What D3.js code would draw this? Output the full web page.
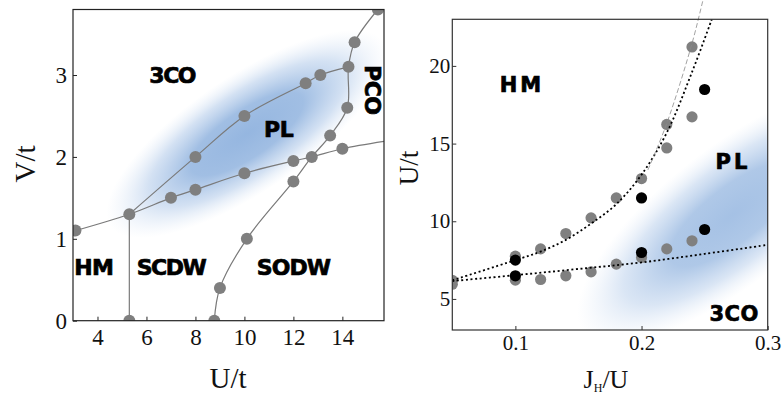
<!DOCTYPE html>
<html>
<head>
<meta charset="utf-8">
<script src="https://cdn.jsdelivr.net/npm/d3@7"></script>
<style>
  html, body { margin: 0; padding: 0; background: #fff; }
  svg { display: block; }
  .tick text { font-family: "Liberation Serif", "DejaVu Serif", serif; fill: #111; }
  .phase { font-family: "DejaVu Sans", sans-serif; font-weight: bold; fill: #000; stroke: #000; stroke-width: 0.7; }
  .title { font-family: "Liberation Serif", "DejaVu Serif", serif; fill: #111; }
</style>
</head>
<body>
<svg id="chart" width="782" height="396"></svg>
<script>
// ---------- Left panel: V/t versus U/t ----------
const leftXTicks = [4, 6, 8, 10, 12, 14];
const leftYTicks = [0, 1, 2, 3];

// measured transition points (U/t, V/t)
const leftDots = [
  [3.1, 1.1], [5.3, 1.3], [7, 1.5], [8, 1.6], [10, 1.8], [12, 1.95], [12.75, 2.0], [14, 2.1],
  [8, 2.0], [10, 2.5], [12.5, 2.9], [13.1, 3.0], [14.25, 3.1],
  [8.77, 0], [9, 0.4], [10.1, 1.0], [12, 1.7], [13.5, 2.26], [14.2, 2.6], [14.5, 3.4], [15.45, 3.8],
  [5.3, 0]
];

// phase boundaries through the points
const boundaryLower = [[3.1, 1.1], [5.3, 1.3], [7, 1.5], [8, 1.6], [10, 1.8], [12, 1.95], [12.75, 2.0], [14, 2.1], [15.7, 2.19]];
const boundaryUpper = [[5.3, 1.3], [8, 2.0], [10, 2.5], [12.5, 2.9], [13.1, 3.0], [14.25, 3.1]];
const boundaryRight = [[8.77, 0], [9, 0.4], [10.1, 1.0], [12, 1.7], [12.75, 2.0], [13.5, 2.26], [14.2, 2.6], [14.25, 3.1], [14.5, 3.4], [15.45, 3.8]];
const boundaryHM = [[5.3, 0], [5.3, 1.3]];

const leftLabels = [
  { text: "3CO", x: 7.05, y: 3.0, rotate: 0, ls: -1.5 },
  { text: "PL", x: 11.4, y: 2.33, rotate: 0, ls: -0.5 },
  { text: "PCO", x: 15.25, y: 2.82, rotate: 90, ls: -0.5 },
  { text: "HM", x: 3.85, y: 0.65, rotate: 0, ls: -0.5 },
  { text: "SCDW", x: 7.0, y: 0.65, rotate: 0, ls: -1.5 },
  { text: "SODW", x: 12.0, y: 0.65, rotate: 0, ls: -1 }
];

// ---------- Right panel: U/t versus J_H/U ----------
const rightXTicks = [0.1, 0.2, 0.3];
const rightYTicks = [5, 10, 15, 20];

const grayDots = [
  [0.05, 6.2], [0.05, 5.95],
  [0.1, 7.75], [0.12, 8.22], [0.14, 9.21], [0.16, 10.22], [0.18, 11.5], [0.2, 12.75],
  [0.22, 16.23], [0.22, 14.72], [0.24, 21.22], [0.24, 16.72],
  [0.1, 6.21], [0.12, 6.25], [0.14, 6.49], [0.16, 6.74], [0.18, 7.24], [0.2, 7.67],
  [0.22, 8.22], [0.24, 8.74]
];
const blackDots = [[0.1, 7.5], [0.1, 6.49], [0.2, 11.5], [0.2, 7.99], [0.25, 9.47], [0.25, 18.48]];

const fitUpper = [[0.05, 6.2], [0.1, 7.5], [0.12, 8.05], [0.14, 8.8], [0.16, 9.85], [0.18, 11.1], [0.2, 13.0], [0.22, 15.7], [0.24, 19.6], [0.2557, 23]];
const fitLower = [[0.05, 6.15], [0.1, 6.53], [0.15, 6.93], [0.2, 7.35], [0.25, 7.9], [0.3, 8.48]];
const fitSteep = [[0.205, 13.3], [0.22, 16.3], [0.2395, 21.3], [0.2486, 24.2], [0.251, 25]];

const rightLabels = [
  { text: "HM", x: 0.1052, y: 18.8, ls: 3 },
  { text: "PL", x: 0.2725, y: 13.8, ls: 3 },
  { text: "3CO", x: 0.2734, y: 4.0, ls: 0.5 }
];

const svg = d3.select("#chart");
const defs = svg.append("defs");

// soft blue glow for the PL region
const grad = defs.append("radialGradient").attr("id", "plGlow");
grad.append("stop").attr("offset", "0%").attr("stop-color", "#95b6e0").attr("stop-opacity", 1);
grad.append("stop").attr("offset", "40%").attr("stop-color", "#9cbbe2").attr("stop-opacity", 0.95);
grad.append("stop").attr("offset", "70%").attr("stop-color", "#b0c9e9").attr("stop-opacity", 0.55);
grad.append("stop").attr("offset", "100%").attr("stop-color", "#d6e3f4").attr("stop-opacity", 0);

// ===== left panel =====
const xL = d3.scaleLinear().domain([3, 15.7]).range([73, 384]);
const yL = d3.scaleLinear().domain([0, 3.8]).range([320.7, 9.5]);

defs.append("clipPath").attr("id", "clipL").append("rect")
  .attr("x", xL.range()[0]).attr("y", yL.range()[1])
  .attr("width", xL.range()[1] - xL.range()[0]).attr("height", yL.range()[0] - yL.range()[1]);

const gL = svg.append("g");
const plotL = gL.append("g").attr("clip-path", "url(#clipL)");

// glow: centred on the PL pocket, stretched along the boundaries
{
  const cx = xL(10.1), cy = yL(2.28);
  plotL.append("ellipse")
    .attr("cx", 0).attr("cy", 0).attr("rx", 165).attr("ry", 58)
    .attr("transform", `translate(${cx},${cy}) rotate(-34)`)
    .attr("fill", "url(#plGlow)");
}

const lineL = d3.line().x(d => xL(d[0])).y(d => yL(d[1])).curve(d3.curveCatmullRom.alpha(0.5));
[boundaryLower, boundaryUpper, boundaryRight, boundaryHM].forEach(b => {
  plotL.append("path").attr("d", lineL(b))
    .attr("fill", "none").attr("stroke", "#7a7a7a").attr("stroke-width", 1.2);
});

plotL.selectAll("circle.dot").data(leftDots).join("circle")
  .attr("class", "dot")
  .attr("cx", d => xL(d[0])).attr("cy", d => yL(d[1])).attr("r", 6)
  .attr("fill", "#7f7f7f");

leftLabels.forEach(l => {
  gL.append("text").attr("class", "phase")
    .attr("font-size", 22).attr("letter-spacing", l.ls)
    .attr("text-anchor", "middle").attr("dominant-baseline", "central")
    .attr("transform", `translate(${xL(l.x)},${yL(l.y)}) rotate(${l.rotate})`)
    .text(l.text);
});

// frame
gL.append("rect")
  .attr("x", xL.range()[0]).attr("y", yL.range()[1])
  .attr("width", xL.range()[1] - xL.range()[0]).attr("height", yL.range()[0] - yL.range()[1])
  .attr("fill", "none").attr("stroke", "#222").attr("stroke-width", 1.2);

const axLX = gL.append("g").attr("transform", `translate(0,${yL.range()[0]})`)
  .call(d3.axisBottom(xL).tickValues(leftXTicks).tickSize(-4).tickPadding(8).tickFormat(d3.format("d")));
const axLY = gL.append("g").attr("transform", `translate(${xL.range()[0]},0)`)
  .call(d3.axisLeft(yL).tickValues(leftYTicks).tickSize(-4).tickPadding(6).tickFormat(d3.format("d")));
[axLX, axLY].forEach(a => {
  a.select(".domain").remove();
  a.selectAll(".tick line").attr("stroke", "#222");
  a.selectAll(".tick text").attr("font-size", 23).attr("font-family", "Liberation Serif, serif");
});

gL.append("text").attr("class", "title").attr("font-size", 29)
  .attr("text-anchor", "middle")
  .attr("x", 228).attr("y", 388).text("U/t");
gL.append("text").attr("class", "title").attr("font-size", 29)
  .attr("text-anchor", "middle")
  .attr("transform", "translate(35,164) rotate(-90)").text("V/t");

// ===== right panel =====
const xR = d3.scaleLinear().domain([0.05, 0.3]).range([452.3, 767.7]);
const yR = d3.scaleLinear().domain([3, 23]).range([330, 19.3]);

defs.append("clipPath").attr("id", "clipR").append("rect")
  .attr("x", xR.range()[0]).attr("y", yR.range()[1])
  .attr("width", xR.range()[1] - xR.range()[0]).attr("height", yR.range()[0] - yR.range()[1]);

const gR = svg.append("g");
const plotR = gR.append("g").attr("clip-path", "url(#clipR)");

{
  const cx = xR(0.272), cy = yR(10.4);
  plotR.append("ellipse")
    .attr("cx", 0).attr("cy", 0).attr("rx", 190).attr("ry", 68)
    .attr("transform", `translate(${cx},${cy}) rotate(-38)`)
    .attr("fill", "url(#plGlow)").attr("opacity", 0.85);
}

const lineR = d3.line().x(d => xR(d[0])).y(d => yR(d[1])).curve(d3.curveCatmullRom.alpha(0.5));

plotR.selectAll("circle.gray").data(grayDots).join("circle")
  .attr("class", "gray")
  .attr("cx", d => xR(d[0])).attr("cy", d => yR(d[1])).attr("r", 5.6)
  .attr("fill", "#808080");

plotR.append("path").attr("d", lineR(fitUpper))
  .attr("fill", "none").attr("stroke", "#000").attr("stroke-width", 1.8)
  .attr("stroke-dasharray", "2,2.6");
plotR.append("path").attr("d", lineR(fitLower))
  .attr("fill", "none").attr("stroke", "#000").attr("stroke-width", 1.8)
  .attr("stroke-dasharray", "2,2.6");

plotR.selectAll("circle.black").data(blackDots).join("circle")
  .attr("class", "black")
  .attr("cx", d => xR(d[0])).attr("cy", d => yR(d[1])).attr("r", 5.6)
  .attr("fill", "#000");

// steep guide runs past the top of the frame
gR.append("path").attr("d", lineR(fitSteep))
  .attr("fill", "none").attr("stroke", "#8a8a8a").attr("stroke-width", 0.8)
  .attr("stroke-dasharray", "5,2.5");

rightLabels.forEach(l => {
  gR.append("text").attr("class", "phase")
    .attr("font-size", 21).attr("letter-spacing", l.ls)
    .attr("text-anchor", "middle").attr("dominant-baseline", "central")
    .attr("x", xR(l.x)).attr("y", yR(l.y))
    .text(l.text);
});

gR.append("rect")
  .attr("x", xR.range()[0]).attr("y", yR.range()[1])
  .attr("width", xR.range()[1] - xR.range()[0]).attr("height", yR.range()[0] - yR.range()[1])
  .attr("fill", "none").attr("stroke", "#333").attr("stroke-width", 1.2);

const axRX = gR.append("g").attr("transform", `translate(0,${yR.range()[0]})`)
  .call(d3.axisBottom(xR).tickValues(rightXTicks).tickSize(-4).tickPadding(5).tickFormat(d3.format(".1f")));
const axRY = gR.append("g").attr("transform", `translate(${xR.range()[0]},0)`)
  .call(d3.axisLeft(yR).tickValues(rightYTicks).tickSize(-4).tickPadding(2).tickFormat(d3.format("d")));
[axRX, axRY].forEach(a => {
  a.select(".domain").remove();
  a.selectAll(".tick line").attr("stroke", "#333");
  a.selectAll(".tick text").attr("font-size", 21).attr("font-family", "Liberation Serif, serif");
});

const jt = gR.append("text").attr("class", "title").attr("font-size", 26)
  .attr("text-anchor", "middle").attr("x", 606).attr("y", 388);
jt.append("tspan").text("J");
jt.append("tspan").attr("font-size", 12).attr("dy", 4).text("H");
jt.append("tspan").attr("dy", -4).text("/U");

gR.append("text").attr("class", "title").attr("font-size", 27)
  .attr("text-anchor", "middle")
  .attr("transform", "translate(418,168) rotate(-90)").text("U/t");
</script>
</body>
</html>
